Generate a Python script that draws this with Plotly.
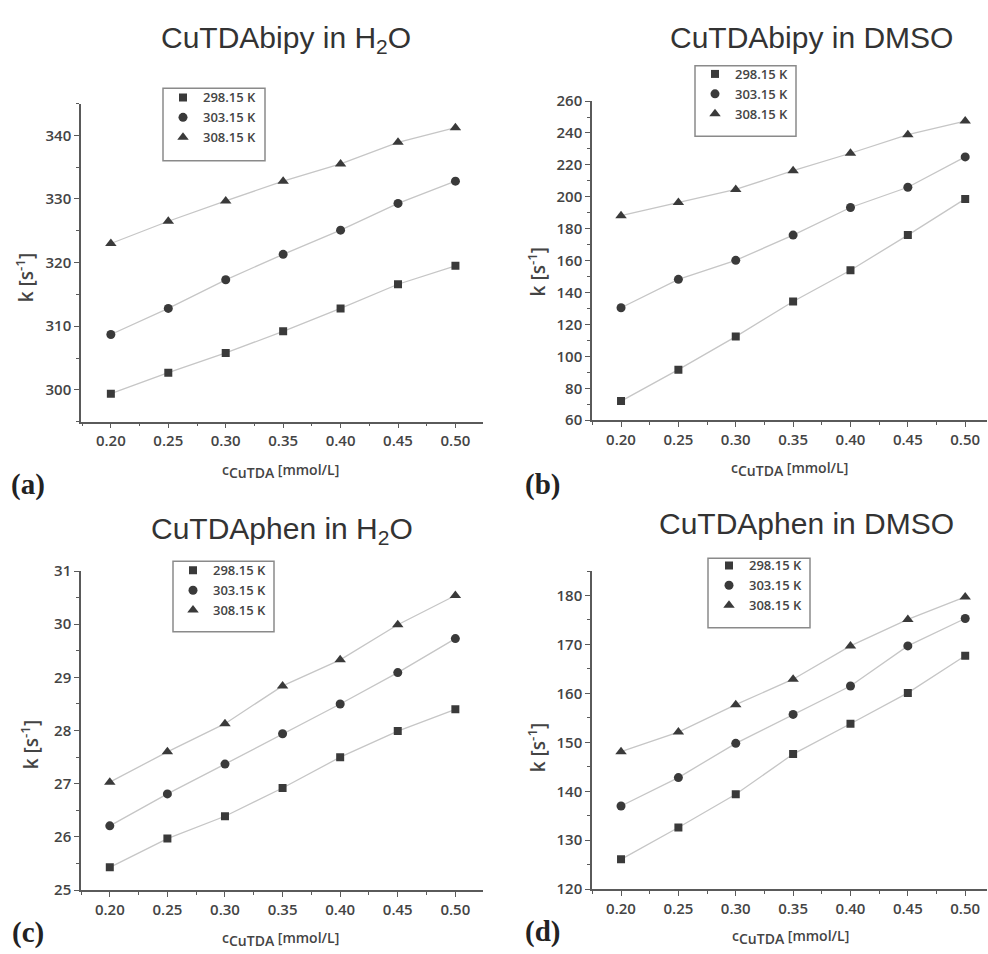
import plotly.graph_objects as go

conc = [0.20, 0.25, 0.30, 0.35, 0.40, 0.45, 0.50]
temps = ["298.15 K", "303.15 K", "308.15 K"]

a_298 = [299.4, 302.7, 305.8, 309.2, 312.8, 316.6, 319.5]
a_303 = [308.7, 312.8, 317.3, 321.3, 325.1, 329.3, 332.8]
a_308 = [323.0, 326.5, 329.7, 332.8, 335.5, 338.9, 341.2]

b_298 = [72.0, 91.7, 112.4, 134.4, 154.0, 176.0, 198.7]
b_303 = [130.5, 148.3, 160.2, 176.0, 193.3, 206.0, 225.0]
b_308 = [188.2, 196.4, 204.6, 216.4, 227.3, 238.9, 247.5]

c_298 = [25.43, 25.97, 26.39, 26.92, 27.50, 27.99, 28.40]
c_303 = [26.21, 26.81, 27.37, 27.94, 28.50, 29.09, 29.73]
c_308 = [27.03, 27.60, 28.13, 28.84, 29.33, 29.99, 30.54]

d_298 = [126.1, 132.6, 139.4, 147.6, 153.8, 160.1, 167.7]
d_303 = [137.0, 142.8, 149.8, 155.7, 161.5, 169.7, 175.3]
d_308 = [148.1, 152.1, 157.7, 162.9, 169.7, 175.1, 179.7]

titles = ["CuTDAbipy in H<sub>2</sub>O", "CuTDAbipy in DMSO",
          "CuTDAphen in H<sub>2</sub>O", "CuTDAphen in DMSO"]
panel_labels = ["(a)", "(b)", "(c)", "(d)"]
y_title = "k [s<sup>-1</sup>]"
x_title = "c<sub><span style='font-size:14px'>CuTDA</span></sub> [mmol/L]"

W, H = 988, 954
def px(x):
    return x / W
def py(y):
    return 1 - y / H

panels = [
    dict(data=[a_298, a_303, a_308], xd=(81, 483), yd=(94.5, 419.5), yr=(295, 345),
         t0=300, dt=10, mdt=5, xr=(0.174, 0.524), box=(163, 79, 265, 153), leg=(185, 91),
         title=(286, 29), ytitle=(25, 273), xtitle=(280, 470), lab=(28, 484)),
    dict(data=[b_298, b_303, b_308], xd=(592, 987), yd=(92, 418), yr=(60, 260),
         t0=60, dt=20, mdt=10, xr=(0.1747, 0.519), box=(695, 56, 796, 128), leg=(717, 67),
         title=(811, 27), ytitle=(537, 267), xtitle=(789, 468), lab=(542, 484)),
    dict(data=[c_298, c_303, c_308], xd=(81, 483), yd=(572, 898), yr=(25, 31),
         t0=25, dt=1, mdt=0.5, xr=(0.175, 0.524), box=(173, 562, 274, 634), leg=(195, 574),
         title=(282, 531), ytitle=(30, 750), xtitle=(280, 948), lab=(28, 941)),
    dict(data=[d_298, d_303, d_308], xd=(592, 987), yd=(572, 897), yr=(120, 185),
         t0=120, dt=10, mdt=5, xr=(0.1747, 0.519), box=(708, 559, 810, 630), leg=(731, 569),
         title=(806, 523), ytitle=(537, 753), xtitle=(790, 946), lab=(542, 940)),
]

symbols = ["square", "circle", "triangle-up"]
msizes = [8, 9, 10]
mcol = "#3a3a3a"
lcol = "#c6c6c6"
acol = "#5a5a5a"
txtcol = "#444444"
tfont = dict(family="Open Sans", size=15, color=txtcol, weight=600)

fig = go.Figure()
layout = dict(width=W, height=H, margin=dict(l=0, r=0, t=0, b=0),
              paper_bgcolor="white", plot_bgcolor="white", showlegend=True,
              annotations=[], shapes=[])

for i, p in enumerate(panels):
    n = "" if i == 0 else str(i + 1)
    xa, ya = "x" + n, "y" + n
    legname = "legend" + n
    for j, series in enumerate(p["data"]):
        fig.add_trace(go.Scatter(x=conc, y=series, xaxis=xa, yaxis=ya, mode="lines",
                                 line=dict(color=lcol, width=1.3), showlegend=False,
                                 hoverinfo="skip"))
    for j, series in enumerate(p["data"]):
        fig.add_trace(go.Scatter(x=conc, y=series, xaxis=xa, yaxis=ya, mode="markers",
                                 marker=dict(symbol=symbols[j], size=msizes[j], color=mcol),
                                 name=temps[j], legend=legname))
    layout["xaxis" + n] = dict(
        domain=[px(p["xd"][0]), px(p["xd"][1])], range=list(p["xr"]), anchor=ya,
        tickvals=conc, tickformat=".2f", ticks="outside", ticklen=5, tickwidth=1.2,
        tickcolor=acol, showline=True, linecolor=acol, linewidth=1.5, showgrid=False,
        zeroline=False, tickfont=tfont,
        minor=dict(tick0=0.225, dtick=0.05, ticks="outside", ticklen=3, tickcolor=acol,
                   showgrid=False))
    layout["yaxis" + n] = dict(
        domain=[py(p["yd"][1]), py(p["yd"][0])], range=list(p["yr"]), anchor=xa,
        tick0=p["t0"], dtick=p["dt"], ticks="outside", ticklen=5, tickwidth=1.2,
        tickcolor=acol, showline=True, linecolor=acol, linewidth=1.5, showgrid=False,
        zeroline=False, tickfont=tfont,
        minor=dict(dtick=p["mdt"], ticks="outside", ticklen=3, tickcolor=acol,
                   showgrid=False))
    bx0, by0, bx1, by1 = p["box"]
    mx, my = p["leg"]
    layout[legname] = dict(x=px(mx - 22), y=py(my - 18), xanchor="left", yanchor="top",
                           bgcolor="rgba(0,0,0,0)", borderwidth=0,
                           font=dict(family="Open Sans", size=13, color=txtcol, weight=600),
                           itemwidth=30, tracegroupgap=0)
    layout["shapes"].append(dict(type="rect", xref="paper", yref="paper",
                                 x0=px(bx0), x1=px(bx1), y0=py(by1), y1=py(by0),
                                 line=dict(color="#8a8a8a", width=1.5)))
    layout["annotations"].append(dict(
        text=titles[i], x=px(p["title"][0]), y=py(p["title"][1]), xref="paper", yref="paper",
        xanchor="center", yanchor="middle", showarrow=False,
        font=dict(family="Liberation Sans", size=30, color="#333333")))
    layout["annotations"].append(dict(
        text=y_title, x=px(p["ytitle"][0]), y=py(p["ytitle"][1]),
        xref="paper", yref="paper", xanchor="center", yanchor="middle", textangle=-90,
        showarrow=False, font=dict(family="Open Sans", size=19, color=txtcol, weight=600)))
    layout["annotations"].append(dict(
        text=x_title, x=px(p["xtitle"][0]), y=py(p["xtitle"][1]),
        xref="paper", yref="paper", xanchor="center", yanchor="middle",
        showarrow=False, font=dict(family="Open Sans", size=14, color=txtcol, weight=600)))
    layout["annotations"].append(dict(
        text="<b>" + panel_labels[i] + "</b>", x=px(p["lab"][0]), y=py(p["lab"][1]),
        xref="paper", yref="paper", xanchor="center", yanchor="middle",
        showarrow=False, font=dict(family="Liberation Serif", size=29, color="#222222")))

fig.update_layout(**layout)
fig.write_html("out.html")
